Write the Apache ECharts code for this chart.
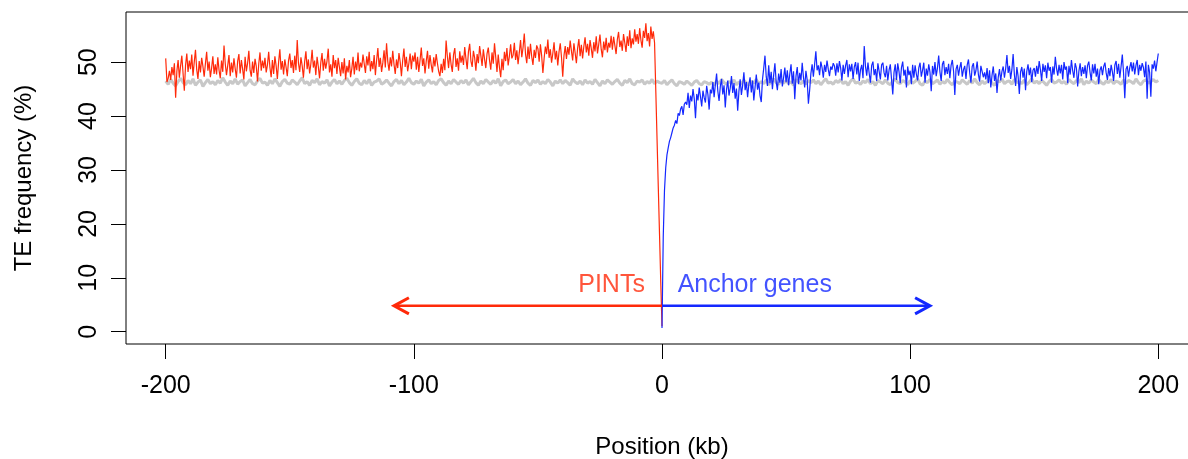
<!DOCTYPE html>
<html>
<head>
<meta charset="utf-8">
<script src="https://cdn.jsdelivr.net/npm/echarts@6/dist/echarts.min.js"></script>
<style>
html,body{margin:0;padding:0;background:#fff;overflow:hidden;width:1188px;height:459px;}
#chart{width:1198px;height:459px;}
</style>
</head>
<body>
<div id="chart"></div>
<script>
// ---- data (TE frequency %) ----
const xTicks = [-200, -100, 0, 100, 200];
const yTicks = [0, 10, 20, 30, 40, 50];
const redStart = -200, blueStart = 0, grayStart = -200;
const redStep = 0.5, blueStep = 0.5, grayStep = 1;

const redValues = [
50.7,46.3,47.0,48.4,46.7,49.1,47.6,49.8,43.4,48.3,50.4,47.1,49.3,51.2,47.9,44.7,49.4,51.6,48.2,50.3,
48.7,51.4,47.5,50.0,52.3,48.6,46.9,50.2,48.1,50.8,49.2,47.3,49.7,51.9,48.4,50.1,47.2,48.9,51.1,47.8,
49.6,47.7,50.9,48.5,47.0,50.3,48.2,53.1,49.7,47.6,49.4,51.3,47.4,49.9,48.1,50.7,48.8,47.1,50.2,51.5,
47.9,50.4,48.7,46.8,51.0,48.3,49.8,52.1,48.5,47.3,50.1,48.0,50.6,49.2,46.4,49.7,51.8,48.4,50.3,48.9,
50.8,48.1,49.5,51.9,49.0,47.2,50.4,47.8,51.1,49.3,46.9,50.0,52.4,48.6,50.2,47.7,50.5,49.1,47.4,50.3,
51.6,48.9,50.4,48.0,51.2,48.5,54.1,49.8,48.2,50.9,49.3,47.1,50.1,52.0,48.7,50.5,47.9,49.7,52.3,49.0,
50.3,47.6,51.0,49.2,47.0,49.9,51.7,48.4,50.6,48.8,50.2,52.5,48.1,49.6,47.3,51.3,48.9,50.4,47.8,50.8,
49.1,47.4,50.0,47.9,50.7,46.8,49.3,48.1,50.4,47.2,48.8,51.0,47.7,50.1,48.5,51.8,48.3,49.9,49.0,51.4,
49.7,48.0,51.1,49.4,51.9,48.3,50.2,48.7,51.3,47.6,50.4,52.6,49.1,50.8,48.2,49.9,52.2,49.0,53.5,50.1,
48.4,50.9,49.2,52.1,49.6,47.8,50.5,48.9,51.7,50.0,47.4,50.3,52.5,49.1,51.0,48.3,49.8,51.6,48.7,51.2,
50.1,51.8,48.6,51.0,48.2,50.4,52.7,49.3,50.7,47.9,50.2,52.1,48.8,51.3,49.5,48.1,50.9,49.2,51.5,49.8,
48.3,47.4,49.7,48.0,50.6,48.5,54.0,51.1,48.9,51.8,49.6,48.2,51.4,52.6,49.1,50.7,48.4,52.0,49.9,51.2,
49.5,52.8,50.6,48.7,51.9,53.4,50.2,49.1,52.1,50.8,48.4,51.5,49.8,53.0,51.2,49.3,52.4,50.5,48.9,51.6,
52.7,50.3,48.6,51.8,49.7,53.5,50.9,48.2,51.4,49.0,47.2,50.6,48.5,51.9,50.2,52.6,49.4,51.1,53.3,50.7,
51.3,53.6,50.4,52.2,49.6,51.8,54.1,50.9,52.7,55.3,51.5,49.8,52.9,50.6,53.4,51.0,49.5,52.3,50.8,53.1,
52.5,50.1,53.3,51.2,48.0,50.7,52.9,51.5,54.2,50.8,52.4,49.9,51.6,53.7,50.5,52.1,49.4,51.9,53.5,50.9,
47.3,51.2,53.0,50.6,52.8,51.4,54.0,52.1,50.3,53.5,51.7,49.8,52.6,54.3,51.1,53.2,50.7,52.9,54.6,51.8,
53.4,51.2,54.1,52.5,50.8,53.7,52.0,54.8,51.6,53.3,55.1,52.4,50.9,53.8,52.2,54.5,51.8,53.6,52.7,54.9,
52.3,54.7,53.1,51.5,54.2,55.6,52.8,54.0,52.1,55.2,53.6,51.9,54.8,53.0,55.9,52.6,54.4,53.3,56.1,53.8,
55.2,53.4,56.3,54.1,52.7,55.8,54.5,57.2,53.9,55.4,52.9,56.6,54.3,55.7,53.6,44.7,35.8,26.9,18.1,9.2,1.0
];

const blueValues = [
0.7,17.5,26.2,30.4,32.8,34.1,35.3,36.0,36.9,37.8,38.3,39.2,38.6,40.5,40.1,41.3,41.8,40.2,42.2,42.6,
42.1,44.3,41.5,43.8,42.7,45.0,43.2,39.6,44.1,42.9,45.3,43.6,41.8,44.7,43.4,42.5,45.6,44.0,41.2,44.9,
44.2,46.3,43.5,45.8,47.9,44.6,42.8,45.5,46.9,44.0,45.7,41.6,44.9,46.6,43.8,45.2,47.4,44.3,46.1,43.2,
45.1,41.0,44.6,46.8,43.9,45.7,48.1,44.8,46.3,43.5,45.9,47.2,44.4,46.6,42.9,45.3,47.7,44.9,46.2,43.8,
42.6,46.8,48.9,51.2,47.3,45.6,49.4,46.1,48.2,45.0,47.6,49.8,46.4,44.8,47.9,46.2,48.7,45.5,47.1,49.0,
46.3,48.5,45.7,47.8,49.6,46.0,48.3,43.1,47.4,49.1,45.9,48.0,46.6,49.9,47.2,45.3,48.4,46.7,42.3,44.8,
47.9,49.6,47.3,49.6,52.0,48.5,49.4,47.6,50.1,49.0,47.1,49.5,48.2,50.3,48.7,47.4,49.2,48.6,49.8,49.3,
47.5,49.8,48.1,50.2,48.9,46.6,49.5,47.8,49.4,50.4,47.2,49.6,48.3,49.7,46.9,49.1,50.0,47.7,49.9,46.5,
48.6,49.5,47.0,53.0,49.2,47.5,49.9,47.9,46.2,49.4,50.1,47.6,48.7,46.5,49.8,48.3,46.8,49.5,49.9,48.0,
47.2,49.3,46.6,48.5,49.6,46.9,44.0,48.1,49.6,46.7,49.8,48.3,46.1,49.0,50.1,47.5,48.6,45.3,49.2,47.6,
48.4,45.9,49.5,47.1,49.4,47.8,46.6,49.0,49.9,47.3,48.5,49.9,46.2,48.8,47.5,49.6,48.1,44.6,49.3,47.7,
50.0,47.4,48.9,51.2,48.2,46.5,49.6,50.2,47.6,49.1,47.8,49.7,47.0,49.4,50.4,48.3,43.9,48.7,49.5,47.5,
49.0,50.0,47.3,48.6,49.3,46.9,49.5,50.5,48.0,46.2,49.2,49.8,47.5,48.4,50.1,47.7,46.4,49.3,49.4,47.2,
48.1,46.8,48.9,46.1,48.5,45.3,47.6,49.2,46.5,47.9,44.3,47.2,48.7,46.6,48.3,49.2,47.1,48.8,51.3,48.0,
49.3,46.9,48.6,51.5,47.7,45.6,49.1,47.4,44.1,48.2,49.1,47.1,48.8,44.8,48.3,49.6,47.6,49.0,46.3,48.5,
48.9,47.3,49.3,47.8,50.2,48.6,46.5,49.7,48.2,49.4,47.0,49.9,48.4,49.1,46.2,49.2,47.7,51.0,48.8,47.5,
49.5,47.9,49.5,46.8,50.0,48.6,49.2,46.1,49.3,47.7,50.4,48.4,47.1,49.8,48.9,45.5,48.3,49.8,47.4,49.1,
47.8,49.4,47.0,49.4,50.1,48.1,46.6,49.6,47.9,49.7,47.3,48.8,45.9,48.5,49.2,47.6,49.2,49.9,48.0,46.7,
48.9,47.4,49.5,48.2,46.5,49.5,50.2,47.8,49.7,47.1,49.2,51.4,48.0,43.3,48.7,49.3,47.3,49.0,50.0,48.3,
49.9,47.7,49.4,50.4,47.6,49.5,48.4,49.8,49.0,47.2,50.1,43.2,49.5,48.1,43.6,49.6,48.8,50.3,48.3,50.0,51.6
];

const grayValues = [
46.5,45.9,46.8,46.1,45.6,46.4,47.0,46.2,45.8,46.6,46.0,46.9,45.7,46.3,46.7,45.5,46.2,46.8,46.0,46.4,
45.8,46.6,46.1,47.1,46.3,45.7,46.5,46.0,46.9,45.9,46.4,46.7,45.6,46.2,46.8,46.0,45.8,46.5,47.0,46.1,
46.3,45.7,46.6,46.0,46.9,46.2,45.5,46.4,46.8,46.1,45.9,46.7,46.3,45.8,46.5,47.1,46.0,46.4,45.7,46.6,
46.2,46.9,45.8,46.4,46.1,46.7,45.6,46.3,46.8,46.0,46.5,45.9,46.6,47.0,46.2,45.7,46.4,46.9,46.1,45.8,
46.6,46.0,46.8,45.7,46.3,46.5,46.9,45.9,46.2,46.7,46.1,45.6,46.4,46.8,46.0,46.6,45.8,46.3,47.0,46.2,
45.9,46.5,46.1,46.8,45.6,46.3,46.7,46.0,46.4,45.8,46.6,46.9,46.2,45.7,46.5,46.0,46.8,46.3,45.9,46.6,
46.1,46.7,45.8,46.4,47.0,46.2,45.7,46.5,46.0,46.8,46.3,45.9,46.6,46.1,46.9,45.6,46.4,46.7,46.0,46.3,
46.8,46.0,46.5,45.8,46.3,46.9,46.1,45.7,46.6,46.2,46.7,45.9,46.4,46.0,46.8,46.3,45.6,46.5,46.1,46.7,
46.0,46.6,46.2,45.7,46.9,46.3,46.0,46.5,45.8,46.7,46.1,46.4,45.9,46.8,46.2,45.6,46.5,46.0,46.7,46.3,
45.9,46.4,46.8,46.1,45.7,46.6,46.2,46.9,46.0,45.8,46.5,46.3,46.7,45.9,46.4,46.1,46.8,46.0,46.5,46.2,
46.1,46.6,45.8,46.3,46.7,46.0,45.6,46.4,46.2,45.9,46.5,46.1,45.7,46.3,46.6,46.0,45.8,46.4,46.2,45.9,
46.3,45.7,46.5,46.0,46.8,46.2,45.9,46.4,46.1,46.7,45.8,46.3,46.0,46.6,46.2,45.7,46.5,46.1,46.8,46.0,
46.4,46.0,46.7,45.8,46.3,46.9,46.2,45.9,46.5,46.1,46.6,46.0,46.4,45.7,46.8,46.3,46.0,46.5,45.9,46.6,
46.2,46.7,46.0,46.5,45.8,46.4,46.9,46.1,46.3,45.9,46.6,46.2,46.8,46.0,46.4,45.7,46.5,46.9,46.1,46.3,
45.9,46.5,46.2,46.8,46.0,46.4,45.7,46.6,46.3,46.0,46.7,46.1,45.8,46.5,46.9,46.2,46.0,46.6,46.3,45.8,
46.6,46.1,46.4,46.9,46.0,45.7,46.5,46.2,46.8,46.0,46.3,46.7,45.9,46.4,46.1,46.8,46.2,45.8,46.5,46.3,
46.0,46.7,46.3,45.9,46.6,46.1,46.9,46.2,45.8,46.5,46.0,46.4,46.8,46.1,45.7,46.6,46.3,46.9,46.0,46.4,
46.5,45.9,46.8,46.2,46.4,46.0,46.7,45.8,46.3,46.9,46.1,46.5,46.0,46.6,46.2,45.7,46.4,46.8,46.1,46.3,
46.7,46.1,46.4,45.9,46.8,46.3,46.0,46.6,46.2,46.9,45.8,46.5,46.1,46.7,46.3,46.0,46.8,46.2,45.9,46.5,
46.2,46.8,46.0,46.5,46.3,45.9,46.7,46.1,46.6,46.4,46.0,46.9,46.2,45.8,46.5,46.7,46.1,46.4,46.8,46.3,46.6
];

// annotation: arrows and labels (in data units)
const arrowY = 4.8;
const arrowLeftEnd = -108;
const arrowRightEnd = 108;
const headDx = 6, headDy = 1.5;
const labelY = 8.7;
const pintsLabel = { text: 'PINTs', x: -6.9 };
const anchorLabel = { text: 'Anchor genes', x: 6.3 };

// ---- build ----
const RED = '#ff2a0a', BLUE = '#1428ff', GRAY = '#c8c8c8';
const FONT = '"Liberation Sans", Arial, Helvetica, sans-serif';
function toPairs(start, step, vals) { return vals.map((v, i) => [start + i * step, v]); }

const chart = echarts.init(document.getElementById('chart'), null, { renderer: 'canvas' });
const lineBase = { type: 'line', showSymbol: false, symbol: 'none', silent: true, animation: false };

chart.setOption({
  animation: false,
  grid: { left: 126, right: 0, top: 12, bottom: 115, outerBoundsMode: 'none', containLabel: false, show: true, borderColor: '#000', borderWidth: 1, backgroundColor: 'transparent' },
  xAxis: {
    type: 'value', min: -216, max: 216, position: 'bottom',
    name: 'Position (kb)', nameLocation: 'middle', nameGap: 91,
    nameTextStyle: { fontFamily: FONT, fontSize: 24, color: '#000' },
    axisLine: { show: false, onZero: false },
    splitLine: { show: false },
    axisTick: { show: true, inside: false, length: 15, lineStyle: { color: '#000', width: 1 }, customValues: xTicks },
    axisLabel: { show: true, margin: 30, fontFamily: FONT, fontSize: 25, color: '#000', customValues: xTicks }
  },
  yAxis: {
    type: 'value', min: -2.28, max: 59.3, position: 'left',
    name: 'TE frequency (%)', nameLocation: 'middle', nameGap: 90, nameRotate: 90,
    nameTextStyle: { fontFamily: FONT, fontSize: 24, color: '#000' },
    axisLine: { show: false, onZero: false },
    splitLine: { show: false },
    axisTick: { show: true, inside: false, length: 15, lineStyle: { color: '#000', width: 1 }, customValues: yTicks },
    axisLabel: { show: true, margin: 24, rotate: 90, fontFamily: FONT, fontSize: 25, color: '#000', customValues: yTicks }
  },
  series: [
    Object.assign({}, lineBase, { name: 'background', data: toPairs(grayStart, grayStep, grayValues), lineStyle: { color: GRAY, width: 3 }, z: 1 }),
    Object.assign({}, lineBase, { name: 'PINTs', data: toPairs(redStart, redStep, redValues), lineStyle: { color: RED, width: 1.2 }, z: 2 }),
    Object.assign({}, lineBase, { name: 'Anchor genes', data: toPairs(blueStart, blueStep, blueValues), lineStyle: { color: BLUE, width: 1.2 }, z: 3 }),
    Object.assign({}, lineBase, { data: [[arrowLeftEnd, arrowY], [0, arrowY]], lineStyle: { color: RED, width: 2.5 }, z: 4 }),
    Object.assign({}, lineBase, { data: [[arrowLeftEnd + headDx, arrowY + headDy], [arrowLeftEnd, arrowY], [arrowLeftEnd + headDx, arrowY - headDy]], lineStyle: { color: RED, width: 3, join: 'miter' }, z: 4 }),
    Object.assign({}, lineBase, { data: [[0, arrowY], [arrowRightEnd, arrowY]], lineStyle: { color: BLUE, width: 2.5 }, z: 4 }),
    Object.assign({}, lineBase, { data: [[arrowRightEnd - headDx, arrowY + headDy], [arrowRightEnd, arrowY], [arrowRightEnd - headDx, arrowY - headDy]], lineStyle: { color: BLUE, width: 3, join: 'miter' }, z: 4 }),
    {
      type: 'scatter', silent: true, symbolSize: 0, z: 5,
      data: [[pintsLabel.x, labelY]],
      label: { show: true, position: 'inside', formatter: pintsLabel.text, align: 'right', verticalAlign: 'middle', color: RED, fontFamily: FONT, fontSize: 25 }
    },
    {
      type: 'scatter', silent: true, symbolSize: 0, z: 5,
      data: [[anchorLabel.x, labelY]],
      label: { show: true, position: 'inside', formatter: anchorLabel.text, align: 'left', verticalAlign: 'middle', color: BLUE, fontFamily: FONT, fontSize: 25 }
    }
  ]
});
</script>
</body>
</html>
